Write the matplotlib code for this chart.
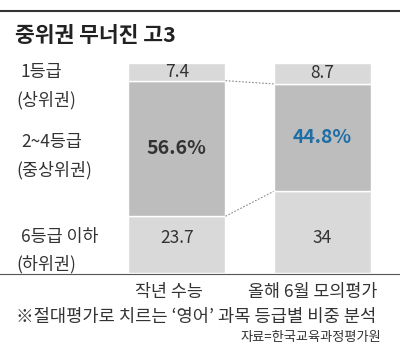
import matplotlib
matplotlib.use("Agg")
from matplotlib import pyplot as plt
from matplotlib.lines import Line2D

plt.rcParams['font.family'] = ['Noto Sans CJK KR', 'DejaVu Sans']

# data
groups = ["작년 수능", "올해 6월 모의평가"]
grade1 = [7.4, 8.7]        # 1등급 (상위권)
grade2_4 = [56.6, 44.8]    # 2~4등급 (중상위권)
grade6 = [23.7, 34]        # 6등급 이하 (하위권)
mid_labels = ["56.6%", "44.8%"]
mid_colors = ["#333333", "#1f6ea6"]
row_labels = [("1등급", "(상위권)"), ("2~4등급", "(중상위권)"), ("6등급 이하", "(하위권)")]

W, H = 400, 351
fig = plt.figure(figsize=(W / 100, H / 100), dpi=100)

def px(x, y):
    return x / W, 1 - y / H

# bars axes
ax = fig.add_axes([128 / W, 1 - 273 / H, 243 / W, 210 / H])
width = 0.67
xs = [0, 1]
tot = [a + b + c for a, b, c in zip(grade1, grade2_4, grade6)]
low = [g / t * 100 for g, t in zip(grade6, tot)]
mid = [g / t * 100 for g, t in zip(grade2_4, tot)]
top = [g / t * 100 for g, t in zip(grade1, tot)]
light, dark = "#d9d9d9", "#bdbdbd"
ax.bar(xs, low, width, color=light, edgecolor="white", linewidth=1)
ax.bar(xs, mid, width, bottom=low, color=dark, edgecolor="white", linewidth=1)
b_top = [l + m for l, m in zip(low, mid)]
ax.bar(xs, top, width, bottom=b_top, color=light, edgecolor="white", linewidth=1)
ax.set_xlim(-width / 2, 1 + width / 2)
ax.set_ylim(0, 100)
ax.axis("off")

# connectors
ax.plot([width / 2, 1 - width / 2], [b_top[0], b_top[1]], ls=(0, (1.5, 1.5)), color="#888888", lw=0.8)
ax.plot([width / 2, 1 - width / 2], [low[0], low[1]], ls=(0, (1.5, 1.5)), color="#888888", lw=0.8)

for i in xs:
    ax.text(i, b_top[i] + top[i] / 2, f"{grade1[i]:g}", ha="center", va="center",
            fontsize=12.5, color="#333333")
    ax.text(i, low[i] + mid[i] / 2, mid_labels[i], ha="center", va="center",
            fontsize=14, fontweight="bold", color=mid_colors[i])
    # bottom labels sit level with the "6등급 이하" row label
    ax.text(i, 16.5, f"{grade6[i]:g}", ha="center", va="center",
            fontsize=12.5, color="#333333")

# rules
fig.add_artist(Line2D([0, 1], [1 - 11 / H] * 2, color="#333333", lw=1.5))
fig.add_artist(Line2D([0, 1], [1 - 273.5 / H] * 2, color="#555555", lw=0.8))

# title
fig.text(*px(15, 35), "중위권 무너진 고3", fontsize=15.5, fontweight="bold",
         color="#222222", va="center", ha="left")

# row labels
ys = [(72, 100), (142, 170), (237, 264)]
for (a, b), (y1, y2) in zip(row_labels, ys):
    fig.text(*px(21, y1), a, fontsize=12.5, color="#333333", va="center", ha="left")
    fig.text(*px(16, y2), b, fontsize=12.5, color="#333333", va="center", ha="left")

# group labels
fig.text(*px(169, 292), groups[0], fontsize=12.5, color="#333333", va="center", ha="center")
fig.text(*px(313, 292), groups[1], fontsize=12.5, color="#333333", va="center", ha="center")

fig.text(*px(16, 317), "※절대평가로 치르는 ‘영어’ 과목 등급별 비중 분석", fontsize=12.7,
         color="#333333", va="center", ha="left")
fig.text(*px(381, 338), "자료=한국교육과정평가원", fontsize=9.5,
         color="#333333", va="center", ha="right")

fig.savefig("out.png", dpi=100)
